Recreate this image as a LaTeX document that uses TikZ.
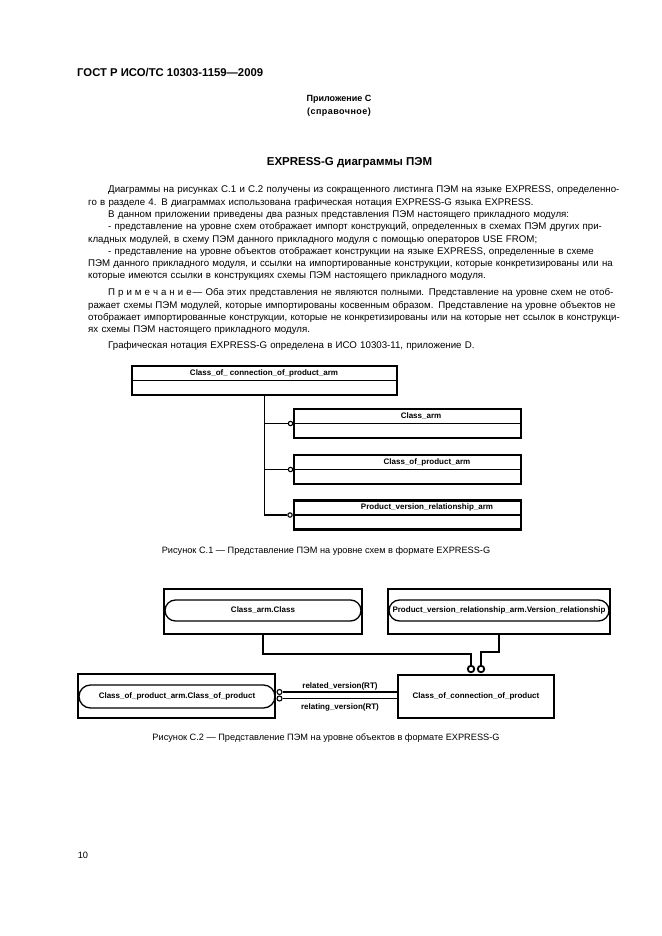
\documentclass[tikz,border=0pt]{standalone}
\usepackage{fontspec}
\setmainfont{Liberation Sans}
\newcommand\boxfont{\fontsize{8}{9}\selectfont\bfseries}
\tikzset{
  body/.style={anchor=north west, inner sep=0pt, text width=513pt, align=left, font=\fontsize{9.7}{12.3}\selectfont},
  ent/.style={draw, line width=1.5pt, inner sep=0pt, font=\boxfont},
  lbl/.style={inner sep=0pt, font=\boxfont},
  stad/.style={draw, line width=1.3pt, inner sep=0pt, font=\boxfont},
  ring/.style={circle, draw, fill=white, inner sep=0pt},
  figcap/.style={inner sep=0pt, font=\fontsize{9.2}{11}\selectfont},
}
\begin{document}
\begin{tikzpicture}[x=1pt, y=-1pt]
\fill[white] (0,0) rectangle (661,936);
\node[anchor=west, inner sep=0pt, font=\fontsize{11.3}{13}\selectfont\bfseries] (gost) at (77,73) {ГОСТ Р ИСО/ТС 10303-1159—2009};
\node[inner sep=0pt, font=\fontsize{9}{11}\selectfont\bfseries] (appx) at (339,99) {Приложение С};
\node[inner sep=0pt, font=\fontsize{9}{11}\selectfont\bfseries\addfontfeature{LetterSpace=5}] (appk) at (339,112) {(справочное)};
\node[inner sep=0pt, font=\fontsize{11.5}{13}\selectfont\bfseries] (head) at (349.5,163) {EXPRESS-G диаграммы ПЭМ};
\node[body] (intro) at (88,184) {\noindent\strut\hspace*{20pt}\makebox[493pt][s]{Диаграммы на рисунках С.1 и С.2 получены из сокращенного листинга ПЭМ на языке EXPRESS, определенно-}\\
го в разделе 4. В диаграммах использована графическая нотация EXPRESS-G языка EXPRESS.\\
\hspace*{20pt}В данном приложении приведены два разных представления ПЭМ настоящего прикладного модуля:\\
\hspace*{20pt}\makebox[493pt][s]{- представление на уровне схем отображает импорт конструкций, определенных в схемах ПЭМ других при-}\\
кладных модулей, в схему ПЭМ данного прикладного модуля с помощью операторов USE FROM;\\
\hspace*{20pt}\makebox[493pt][s]{- представление на уровне объектов отображает конструкции на языке EXPRESS, определенные в схеме}\\
\makebox[513pt][s]{ПЭМ данного прикладного модуля, и ссылки на импортированные конструкции, которые конкретизированы или на}\\
которые имеются ссылки в конструкциях схемы ПЭМ настоящего прикладного модуля.};
\node[body] (note) at (88,287) {\noindent\strut\hspace*{20pt}\makebox[493pt][s]{П\kern3ptр\kern3ptи\kern3ptм\kern3ptе\kern3ptч\kern3ptа\kern3ptн\kern3ptи\kern3ptе\kern1pt— Оба этих представления не являются полными. Представление на уровне схем не отоб-}\\
\makebox[513pt][s]{ражает схемы ПЭМ модулей, которые импортированы косвенным образом. Представление на уровне объектов не}\\
\makebox[513pt][s]{отображает импортированные конструкции, которые не конкретизированы или на которые нет ссылок в конструкци-}\\
ях схемы ПЭМ настоящего прикладного модуля.};
\node[body] (gnote) at (88,340) {\noindent\strut\hspace*{20pt}Графическая нотация EXPRESS-G определена в ИСО 10303-11, приложение D.};

\node[ent, minimum width=265pt, minimum height=29pt] (coc) at (264.5,380.5) {};
\draw[line width=1.5pt] (coc.west) -- (coc.east);
\node[lbl] (coct) at (264,373) {Class\_of\_ connection\_of\_product\_arm};
\node[ent, minimum width=227pt, minimum height=29pt] (ca) at (407.5,423.5) {};
\draw[line width=1.5pt] (ca.west) -- (ca.east);
\node[lbl] (cat) at (421,416) {Class\_arm};
\node[ent, minimum width=227pt, minimum height=29pt] (cpa) at (407.5,469.5) {};
\draw[line width=1.5pt] (cpa.west) -- (cpa.east);
\node[lbl] (cpat) at (427,462) {Class\_of\_product\_arm};
\node[ent, line width=2.5pt, minimum width=227pt, minimum height=29pt] (pvr) at (407.5,515) {};
\draw[line width=2.5pt] (pvr.west) -- (pvr.east);
\node[lbl] (pvrt) at (427,507.5) {Product\_version\_relationship\_arm};
\node[ring, line width=1.1pt, minimum size=4.4pt, anchor=east] (r1) at (ca.west) {};
\node[ring, line width=1.1pt, minimum size=4.4pt, anchor=east] (r2) at (cpa.west) {};
\node[ring, line width=1.1pt, minimum size=4.4pt, anchor=east] (r3) at (pvr.west) {};
\draw[line width=1.5pt] (coc.south) |- (r3.west);
\draw[line width=1.5pt] (coc.south |- r1.west) -- (r1.west);
\draw[line width=1.5pt] (coc.south |- r2.west) -- (r2.west);
\node[figcap] (fig1) at (326,551) {Рисунок С.1 — Представление ПЭМ на уровне схем в формате EXPRESS-G};

\node[ent, minimum width=198pt, minimum height=45pt] (cac) at (263,611.5) {};
\node[stad, rounded corners=10.5pt, minimum width=196pt, minimum height=21pt] (cacs) at (263,610.5) {Class\_arm.Class};
\node[ent, minimum width=222pt, minimum height=45pt] (pvv) at (499,611.5) {};
\node[stad, rounded corners=10.5pt, minimum width=220pt, minimum height=21pt] (pvvs) at (499,610.5) {Product\_version\_relationship\_arm.Version\_relationship};
\node[ent, minimum width=156pt, minimum height=43pt] (ccp) at (476,696.5) {Class\_of\_connection\_of\_product};
\node[ent, minimum width=197pt, minimum height=44pt] (cpc) at (176.5,696) {};
\node[stad, rounded corners=11.5pt, minimum width=196pt, minimum height=23pt] (cpcs) at (177,696.5) {Class\_of\_product\_arm.Class\_of\_product};
\node[ring, line width=1.1pt, minimum size=5pt] (ra) at (279.5,692) {};
\node[ring, line width=1.1pt, minimum size=5pt] (rb) at (279.5,698.5) {};
\draw[line width=1.4pt] (ra.east) -- (ra.east -| ccp.west);
\draw[line width=1.4pt] (rb.east) -- (rb.east -| ccp.west);
\node[lbl] (rel1) at (340,686) {related\_version(RT)};
\node[lbl] (rel2) at (340,707.5) {relating\_version(RT)};
\node[ring, line width=1.8pt, minimum size=6.5pt] (rc1) at (471,669) {};
\node[ring, line width=1.8pt, minimum size=6.5pt] (rc2) at (481,669) {};
\draw[line width=1.8pt] (cac.south) -- ++(0,19) -| (rc1.north);
\draw[line width=1.8pt] (pvv.south) -- ++(0,17) -| (rc2.north);
\node[figcap] (fig2) at (326,738) {Рисунок С.2 — Представление ПЭМ на уровне объектов в формате EXPRESS-G};
\node[figcap] (pgno) at (83,855) {10};
\end{tikzpicture}
\end{document}
